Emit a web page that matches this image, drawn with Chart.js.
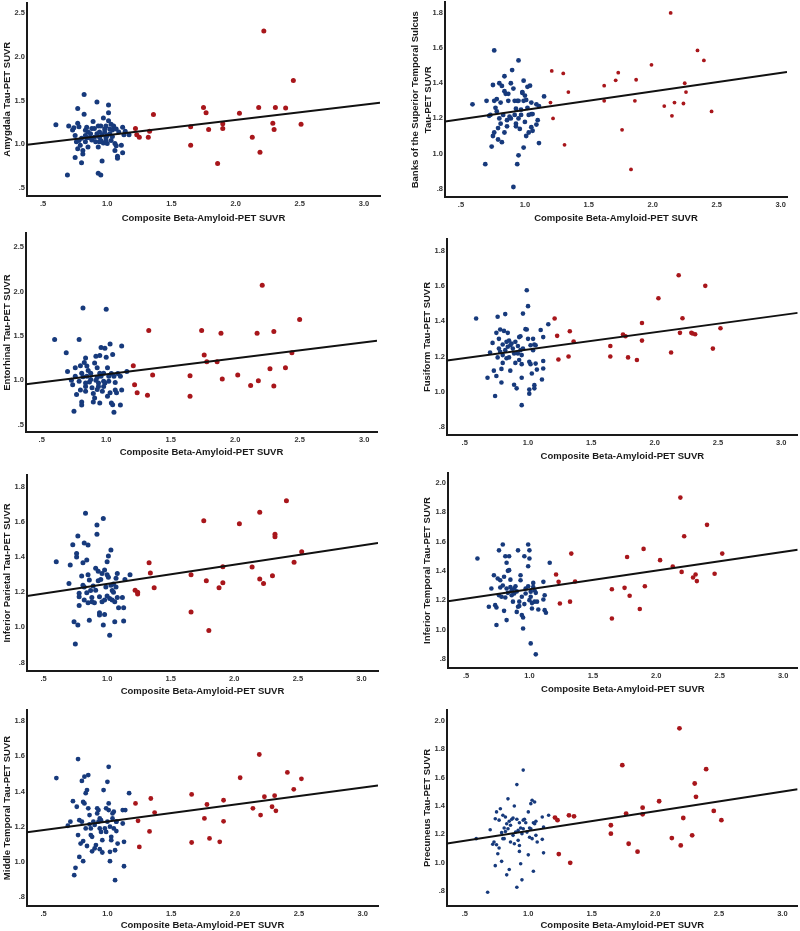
<!DOCTYPE html>
<html><head><meta charset="utf-8">
<script src="https://cdn.jsdelivr.net/npm/chart.js@4.4.1/dist/chart.umd.min.js"></script>
<style>
html,body{margin:0;padding:0;background:#fff;width:800px;height:931px;overflow:hidden;position:relative}
.p{position:absolute}
.p canvas{display:block}
</style></head><body>
<div class="p" id="w1"><canvas id="c1"></canvas></div>
<div class="p" id="w2"><canvas id="c2"></canvas></div>
<div class="p" id="w3"><canvas id="c3"></canvas></div>
<div class="p" id="w4"><canvas id="c4"></canvas></div>
<div class="p" id="w5"><canvas id="c5"></canvas></div>
<div class="p" id="w6"><canvas id="c6"></canvas></div>
<div class="p" id="w7"><canvas id="c7"></canvas></div>
<div class="p" id="w8"><canvas id="c8"></canvas></div>
<script>
// ---------- DATA ----------
const xTitle = 'Composite Beta-Amyloid-PET SUVR';
const xTickValues = [0.5, 1.0, 1.5, 2.0, 2.5, 3.0];
const yTicksWide = [0.5, 1.0, 1.5, 2.0, 2.5];
const yTicksMid = [0.8, 1.0, 1.2, 1.4, 1.6, 1.8];
const yTicksTall = [0.8, 1.0, 1.2, 1.4, 1.6, 1.8, 2.0];

// Amygdala
const amygdalaLow = [[0.60,1.225],[0.69,0.65],[0.70,1.21],[0.73,1.165],[0.74,1.19],[0.75,0.85],[0.75,1.10],[0.76,1.03],[0.77,1.41],[0.77,1.24],[0.77,0.95],[0.78,1.20],[0.79,0.99],[0.80,1.07],[0.80,0.79],[0.81,0.89],[0.81,0.93],[0.82,1.345],[0.82,1.57],[0.83,1.16],[0.83,1.10],[0.83,1.03],[0.84,1.195],[0.85,0.97],[0.85,1.14],[0.86,1.075],[0.87,1.12],[0.88,1.05],[0.89,1.26],[0.90,1.18],[0.91,1.03],[0.92,1.485],[0.92,1.12],[0.93,0.67],[0.93,1.21],[0.94,1.08],[0.94,1.03],[0.95,1.21],[0.95,0.65],[0.96,0.81],[0.96,1.11],[0.97,1.30],[0.97,1.015],[0.98,1.175],[0.99,1.075],[0.99,1.21],[1.00,1.10],[1.00,1.01],[1.01,1.45],[1.01,1.36],[1.01,1.27],[1.02,1.175],[1.02,1.12],[1.03,1.23],[1.03,1.045],[1.04,1.165],[1.04,1.09],[1.05,1.21],[1.06,0.93],[1.06,1.01],[1.07,1.175],[1.07,0.985],[1.08,0.865],[1.08,0.84],[1.09,1.14],[1.11,0.99],[1.12,1.195],[1.12,0.905],[1.13,1.11],[1.14,1.15],[1.17,1.11],[0.93,0.97],[0.90,1.08],[0.84,1.075],[0.78,1.045],[0.94,1.14],[0.98,1.14],[0.95,1.045],[0.99,1.045],[0.88,1.18]];
const amygdalaHigh = [[1.22,1.18],[1.23,1.11],[1.25,1.08],[1.32,1.08],[1.33,1.15],[1.36,1.34],[1.65,1.20],[1.65,0.99],[1.75,1.42],[1.77,1.36],[1.79,1.17],[1.86,0.78],[1.90,1.235],[1.90,1.18],[2.03,1.355],[2.13,1.08],[2.18,1.42],[2.19,0.91],[2.22,2.295],[2.29,1.24],[2.30,1.17],[2.31,1.42],[2.39,1.415],[2.45,1.73],[2.51,1.23]];
const amygdalaFitX = [0.375, 3.125];
const amygdalaFitY = [0.995, 1.475];

// Banks of the superior temporal sulcus
const bankssLow = [[0.59,1.28],[0.69,0.94],[0.70,1.30],[0.72,1.215],[0.73,1.22],[0.74,1.04],[0.75,1.39],[0.75,1.10],[0.76,1.30],[0.76,1.12],[0.76,1.587],[0.77,1.26],[0.78,1.31],[0.78,1.24],[0.79,1.145],[0.79,1.08],[0.80,1.20],[0.80,1.40],[0.81,1.29],[0.81,1.17],[0.82,1.065],[0.82,1.385],[0.83,1.22],[0.84,1.44],[0.84,1.355],[0.84,1.12],[0.85,1.34],[0.86,1.19],[0.86,1.155],[0.87,1.34],[0.87,1.30],[0.88,1.21],[0.89,1.40],[0.89,1.20],[0.90,1.475],[0.91,0.81],[0.92,1.30],[0.92,1.22],[0.93,1.17],[0.93,1.255],[0.93,1.155],[0.94,1.30],[0.94,0.94],[0.95,1.20],[0.95,0.99],[0.95,1.53],[0.95,1.30],[0.96,1.14],[0.97,1.25],[0.98,1.35],[0.98,1.345],[0.99,1.30],[0.99,1.415],[0.99,1.034],[1.00,1.18],[1.00,1.33],[1.01,1.305],[1.01,1.10],[1.02,1.38],[1.02,1.26],[1.03,1.12],[1.03,1.22],[1.04,1.386],[1.05,1.225],[1.05,1.15],[1.06,1.13],[1.06,1.225],[1.09,1.165],[1.09,1.28],[1.10,1.19],[1.11,1.06],[1.11,1.27],[1.15,1.325],[0.91,1.37],[0.97,1.22],[1.05,1.29]];
const bankssHigh = [[1.20,1.29],[1.21,1.47],[1.22,1.20],[1.30,1.456],[1.31,1.05],[1.34,1.35],[1.62,1.386],[1.62,1.30],[1.71,1.417],[1.73,1.46],[1.76,1.135],[1.83,0.91],[1.87,1.42],[1.86,1.30],[1.99,1.505],[2.09,1.27],[2.14,1.80],[2.15,1.215],[2.17,1.29],[2.24,1.285],[2.25,1.40],[2.26,1.35],[2.35,1.587],[2.40,1.53],[2.46,1.24]];
const bankssFitX = [0.375, 3.05];
const bankssFitY = [1.183, 1.464];

// Entorhinal
const entorhinalLow = [[0.60,1.46],[0.69,1.31],[0.70,1.10],[0.73,1.00],[0.74,0.95],[0.75,0.65],[0.76,1.045],[0.76,1.14],[0.77,0.84],[0.79,1.46],[0.79,0.99],[0.80,0.89],[0.80,1.165],[0.81,0.755],[0.81,0.72],[0.81,1.08],[0.82,1.815],[0.82,1.04],[0.83,1.20],[0.84,0.93],[0.84,1.25],[0.84,0.875],[0.85,1.16],[0.85,1.045],[0.86,1.11],[0.87,0.98],[0.88,1.08],[0.89,0.915],[0.90,0.85],[0.90,0.755],[0.91,0.80],[0.91,1.195],[0.92,1.00],[0.92,1.27],[0.93,1.14],[0.93,0.895],[0.94,0.97],[0.94,0.93],[0.95,1.28],[0.95,0.745],[0.96,1.37],[0.96,1.045],[0.97,0.875],[0.98,1.08],[0.98,0.93],[0.99,1.36],[0.99,0.97],[1.00,1.26],[1.00,1.80],[1.01,1.14],[1.01,0.82],[1.02,1.045],[1.02,0.99],[1.03,0.86],[1.03,1.41],[1.04,1.075],[1.04,0.745],[1.05,1.29],[1.05,0.725],[1.06,0.64],[1.06,1.045],[1.07,0.89],[1.07,0.975],[1.08,0.86],[1.09,1.075],[1.11,0.72],[1.11,1.045],[1.12,0.89],[1.12,1.385],[1.16,1.10],[0.88,1.01],[0.95,1.08],[0.93,1.03],[0.98,0.99],[0.84,0.97]];
const entorhinalHigh = [[1.21,1.165],[1.22,0.95],[1.24,0.86],[1.32,0.83],[1.33,1.56],[1.36,1.06],[1.65,1.05],[1.65,0.82],[1.74,1.56],[1.76,1.285],[1.78,1.21],[1.86,1.21],[1.89,1.53],[1.90,1.015],[2.02,1.06],[2.12,0.94],[2.17,1.53],[2.18,0.995],[2.21,2.07],[2.27,1.13],[2.30,0.935],[2.30,1.55],[2.39,1.14],[2.44,1.31],[2.50,1.685]];
const entorhinalFitX = [0.378, 3.10];
const entorhinalFitY = [0.955, 1.447];

// Fusiform
const fusiformLow = [[0.59,1.415],[0.68,1.08],[0.70,1.223],[0.72,1.277],[0.73,1.12],[0.74,0.977],[0.75,1.09],[0.75,1.334],[0.76,1.425],[0.76,1.195],[0.77,1.245],[0.77,1.30],[0.78,1.227],[0.78,1.353],[0.79,1.13],[0.79,1.053],[0.80,1.164],[0.80,1.268],[0.81,1.345],[0.82,1.44],[0.82,1.236],[0.83,1.19],[0.83,1.283],[0.84,1.334],[0.84,1.255],[0.85,1.29],[0.85,1.195],[0.86,1.12],[0.86,1.264],[0.87,1.274],[0.88,1.245],[0.89,1.04],[0.90,1.164],[0.90,1.283],[0.91,1.02],[0.92,1.217],[0.92,1.26],[0.93,1.31],[0.93,1.18],[0.94,1.315],[0.94,1.236],[0.95,1.157],[0.95,1.08],[0.95,0.925],[0.96,1.443],[0.96,1.245],[0.98,1.355],[0.99,1.575],[0.99,1.353],[1.00,1.30],[1.00,1.485],[1.01,1.013],[1.01,0.99],[1.01,1.17],[1.02,1.157],[1.02,1.264],[1.03,1.104],[1.04,1.30],[1.04,1.236],[1.05,1.268],[1.05,1.038],[1.05,1.02],[1.06,1.16],[1.07,1.126],[1.10,1.35],[1.11,1.07],[1.12,1.175],[1.12,1.31],[1.12,1.132],[1.16,1.383],[1.06,1.264],[0.95,1.208],[0.89,1.217],[0.80,1.208]];
const fusiformHigh = [[1.21,1.415],[1.23,1.317],[1.24,1.183],[1.32,1.20],[1.33,1.343],[1.36,1.285],[1.65,1.26],[1.65,1.20],[1.75,1.325],[1.77,1.315],[1.79,1.195],[1.86,1.18],[1.90,1.39],[1.90,1.29],[2.03,1.53],[2.13,1.223],[2.19,1.66],[2.20,1.334],[2.22,1.417],[2.29,1.334],[2.30,1.33],[2.32,1.326],[2.40,1.60],[2.46,1.245],[2.52,1.36]];
const fusiformFitX = [0.36, 3.13];
const fusiformFitY = [1.177, 1.447];

// Inferior parietal
const infParietalLow = [[0.60,1.374],[0.70,1.25],[0.71,1.355],[0.73,1.47],[0.74,1.032],[0.75,0.905],[0.76,1.42],[0.76,1.40],[0.77,1.013],[0.77,1.52],[0.78,1.194],[0.78,1.125],[0.78,1.175],[0.80,1.292],[0.81,1.368],[0.81,1.24],[0.82,1.156],[0.82,1.23],[0.82,1.48],[0.83,1.65],[0.84,1.383],[0.84,1.197],[0.85,1.14],[0.85,1.469],[0.85,1.30],[0.86,1.27],[0.86,1.04],[0.87,1.21],[0.88,1.17],[0.88,1.146],[0.89,1.235],[0.90,1.14],[0.91,1.336],[0.91,1.212],[0.92,1.583],[0.92,1.53],[0.93,1.266],[0.93,1.32],[0.94,1.175],[0.94,1.083],[0.94,1.07],[0.95,1.273],[0.96,1.146],[0.96,1.307],[0.97,1.013],[0.97,1.62],[0.98,1.074],[0.98,1.156],[0.99,1.23],[1.00,1.30],[1.00,1.374],[1.01,1.406],[1.01,1.285],[1.02,1.165],[1.02,0.956],[1.03,1.44],[1.03,1.24],[1.04,1.21],[1.04,1.156],[1.05,1.247],[1.05,1.20],[1.06,1.146],[1.06,1.032],[1.07,1.28],[1.07,1.23],[1.08,1.307],[1.08,1.17],[1.09,1.112],[1.12,1.17],[1.13,1.112],[1.13,1.036],[1.14,1.273],[1.18,1.30],[0.98,1.326],[1.00,1.178]];
const infParietalHigh = [[1.22,1.212],[1.24,1.19],[1.24,1.20],[1.33,1.368],[1.34,1.31],[1.37,1.226],[1.66,1.30],[1.66,1.087],[1.76,1.607],[1.78,1.266],[1.80,0.983],[1.88,1.226],[1.91,1.345],[1.91,1.254],[2.04,1.59],[2.14,1.343],[2.20,1.655],[2.20,1.275],[2.23,1.25],[2.30,1.294],[2.32,1.516],[2.32,1.53],[2.41,1.72],[2.47,1.37],[2.53,1.43]];
const infParietalFitX = [0.37, 3.13];
const infParietalFitY = [1.179, 1.48];

// Inferior temporal
const infTemporalLow = [[0.59,1.484],[0.68,1.155],[0.70,1.28],[0.72,1.37],[0.73,1.166],[0.74,1.03],[0.74,1.15],[0.75,1.348],[0.76,1.54],[0.76,1.234],[0.77,1.286],[0.77,1.336],[0.78,1.223],[0.79,1.58],[0.79,1.30],[0.80,1.127],[0.80,1.36],[0.81,1.218],[0.81,1.50],[0.82,1.28],[0.82,1.064],[0.82,1.455],[0.83,1.40],[0.83,1.25],[0.84,1.50],[0.84,1.405],[0.85,1.34],[0.85,1.29],[0.86,1.234],[0.86,1.268],[0.87,1.19],[0.88,1.28],[0.89,1.295],[0.90,1.12],[0.90,1.26],[0.91,1.54],[0.91,1.155],[0.92,1.19],[0.92,1.16],[0.93,1.37],[0.93,1.336],[0.94,1.223],[0.94,1.098],[0.95,1.007],[0.95,1.082],[0.96,1.50],[0.96,1.173],[0.97,1.28],[0.97,1.245],[0.99,1.432],[0.99,1.58],[0.99,1.295],[1.00,1.20],[1.00,1.54],[1.00,1.484],[1.01,0.905],[1.01,1.257],[1.02,1.18],[1.02,1.143],[1.03,1.29],[1.03,1.318],[1.04,1.268],[1.04,1.19],[1.05,0.83],[1.05,1.25],[1.06,1.19],[1.07,1.136],[1.11,1.325],[1.11,1.205],[1.12,1.234],[1.12,1.132],[1.13,1.114],[1.16,1.455],[0.88,1.245],[1.01,1.223]];
const infTemporalHigh = [[1.21,1.375],[1.23,1.325],[1.24,1.177],[1.32,1.19],[1.33,1.518],[1.36,1.327],[1.65,1.275],[1.65,1.075],[1.75,1.284],[1.77,1.495],[1.79,1.23],[1.87,1.14],[1.90,1.55],[1.91,1.295],[2.03,1.473],[2.13,1.43],[2.19,1.90],[2.20,1.393],[2.22,1.636],[2.29,1.355],[2.31,1.375],[2.32,1.33],[2.40,1.714],[2.46,1.38],[2.52,1.518]];
const infTemporalFitX = [0.358, 3.115];
const infTemporalFitY = [1.193, 1.544];

// Middle temporal
const midTemporalLow = [[0.60,1.476],[0.69,1.205],[0.71,1.228],[0.73,1.345],[0.74,0.924],[0.75,0.966],[0.76,1.313],[0.77,1.152],[0.77,1.584],[0.78,1.028],[0.78,1.237],[0.79,1.104],[0.80,1.46],[0.80,1.228],[0.81,1.118],[0.81,1.34],[0.81,1.004],[0.82,1.332],[0.82,1.484],[0.83,1.19],[0.83,1.39],[0.84,1.09],[0.84,1.408],[0.85,1.493],[0.85,1.304],[0.86,1.266],[0.86,1.213],[0.87,1.19],[0.87,1.152],[0.88,1.06],[0.88,1.142],[0.89,1.228],[0.90,1.21],[0.90,1.076],[0.91,1.095],[0.92,1.304],[0.92,1.275],[0.93,1.228],[0.93,1.294],[0.94,1.072],[0.94,1.19],[0.95,1.17],[0.95,1.237],[0.96,1.053],[0.96,1.123],[0.97,1.408],[0.98,1.19],[0.99,1.304],[1.00,1.455],[1.00,1.228],[1.01,1.294],[1.01,1.54],[1.01,1.332],[1.02,1.057],[1.02,1.004],[1.02,1.20],[1.03,1.142],[1.03,1.123],[1.04,1.275],[1.04,1.247],[1.05,1.19],[1.05,1.285],[1.06,1.066],[1.06,0.896],[1.07,1.228],[1.07,1.175],[1.07,1.228],[1.08,1.104],[1.12,1.294],[1.12,1.218],[1.13,1.114],[1.13,0.975],[1.14,1.294],[1.17,1.39],[0.94,1.247],[0.99,1.17]];
const midTemporalHigh = [[1.22,1.332],[1.24,1.233],[1.25,1.085],[1.33,1.173],[1.34,1.36],[1.37,1.28],[1.66,1.383],[1.66,1.11],[1.76,1.247],[1.78,1.326],[1.80,1.133],[1.88,1.114],[1.91,1.35],[1.91,1.23],[2.04,1.478],[2.14,1.304],[2.19,1.61],[2.20,1.266],[2.23,1.37],[2.29,1.313],[2.31,1.376],[2.32,1.29],[2.41,1.508],[2.46,1.412],[2.52,1.472]];
const midTemporalFitX = [0.37, 3.12];
const midTemporalFitY = [1.168, 1.434];

// Precuneus
const precuneusLow = [[0.59,1.17],[0.68,0.793],[0.70,1.233],[0.72,1.13],[0.73,1.146],[0.74,0.98],[0.74,1.31],[0.75,1.127],[0.75,1.358],[0.76,1.064],[0.77,1.30],[0.77,1.104],[0.78,1.38],[0.79,1.212],[0.79,1.01],[0.80,1.17],[0.80,1.334],[0.81,1.245],[0.81,1.17],[0.82,1.322],[0.82,1.22],[0.83,0.915],[0.83,1.275],[0.84,1.45],[0.84,1.24],[0.85,0.953],[0.85,1.292],[0.86,1.264],[0.86,1.146],[0.87,1.306],[0.88,1.315],[0.89,1.40],[0.89,1.134],[0.90,1.216],[0.91,1.55],[0.91,0.828],[0.91,1.306],[0.92,1.228],[0.93,1.282],[0.93,1.08],[0.93,1.122],[0.94,1.245],[0.94,0.993],[0.95,1.205],[0.95,0.88],[0.96,1.652],[0.96,1.30],[0.96,1.24],[0.97,1.306],[0.98,1.282],[0.99,1.216],[1.00,1.358],[1.00,1.056],[1.01,1.245],[1.01,1.18],[1.02,1.416],[1.02,1.24],[1.03,1.17],[1.03,1.44],[1.04,1.282],[1.04,0.94],[1.05,1.428],[1.05,1.275],[1.06,1.292],[1.06,1.193],[1.07,1.146],[1.11,1.322],[1.12,1.07],[1.12,1.252],[1.11,1.165],[1.16,1.334],[0.92,1.158],[0.88,1.193]];
const precuneusHigh = [[1.21,1.318],[1.23,1.30],[1.24,1.061],[1.32,1.334],[1.33,1.00],[1.36,1.327],[1.65,1.264],[1.65,1.205],[1.74,1.687],[1.77,1.346],[1.79,1.134],[1.86,1.078],[1.90,1.388],[1.90,1.341],[2.03,1.433],[2.13,1.174],[2.19,1.946],[2.20,1.122],[2.22,1.315],[2.29,1.193],[2.31,1.558],[2.32,1.464],[2.40,1.659],[2.46,1.365],[2.52,1.30]];
const precuneusFitX = [0.36, 3.12];
const precuneusFitY = [1.136, 1.518];

// ---------- STYLE / LAYOUT ----------
const BLUE = '#173a7c';
const RED = '#a8161b';
const FONT = "'Liberation Sans', Arial, sans-serif";

const panels = [
  {id:1, yTitle:'Amygdala Tau-PET SUVR', low:amygdalaLow, high:amygdalaHigh, fx:amygdalaFitX, fy:amygdalaFitY, yTicks:yTicksWide,
   L:0, T:0, H:230, yW:27, padTop:0, padRight:20, xMin:0.375, xMax:3.125, yMin:0.41, yMax:2.62, gap:22, ytp:1.3, rLow:2.5, rHigh:2.5},
  {id:2, yTitle:['Banks of the Superior Temporal Sulcus','Tau-PET SUVR'], low:bankssLow, high:bankssHigh, fx:bankssFitX, fy:bankssFitY, yTicks:yTicksMid,
   L:400, T:0, H:231, yW:45, padTop:0, padRight:13, xMin:0.375, xMax:3.05, yMin:0.753, yMax:1.86, gap:21, ytp:9.5, rLow:2.4, rHigh:1.9},
  {id:3, yTitle:'Entorhinal Tau-PET SUVR', low:entorhinalLow, high:entorhinalHigh, fx:entorhinalFitX, fy:entorhinalFitY, yTicks:yTicksWide,
   L:0, T:228, H:238, yW:26, padTop:5, padRight:23, xMin:0.378, xMax:3.10, yMin:0.417, yMax:2.66, gap:20.5, ytp:1.0, rLow:2.5, rHigh:2.5},
  {id:4, yTitle:'Fusiform Tau-PET SUVR', low:fusiformLow, high:fusiformHigh, fx:fusiformFitX, fy:fusiformFitY, yTicks:yTicksMid,
   L:400, T:234, H:235, yW:47, padTop:5, padRight:1, xMin:0.36, xMax:3.13, yMin:0.756, yMax:1.865, gap:21, ytp:21, rLow:2.3, rHigh:2.3},
  {id:5, yTitle:'Inferior Parietal Tau-PET SUVR', low:infParietalLow, high:infParietalHigh, fx:infParietalFitX, fy:infParietalFitY, yTicks:yTicksMid,
   L:0, T:470, H:235, yW:27, padTop:5, padRight:22, xMin:0.37, xMax:3.13, yMin:0.752, yMax:1.867, gap:20, ytp:1.0, rLow:2.5, rHigh:2.5},
  {id:6, yTitle:'Inferior Temporal Tau-PET SUVR', low:infTemporalLow, high:infTemporalHigh, fx:infTemporalFitX, fy:infTemporalFitY, yTicks:yTicksTall,
   L:400, T:468, H:234, yW:48, padTop:5, padRight:2, xMin:0.358, xMax:3.115, yMin:0.737, yMax:2.068, gap:21, ytp:21.5, rLow:2.3, rHigh:2.3},
  {id:7, yTitle:'Middle Temporal Tau-PET SUVR', low:midTemporalLow, high:midTemporalHigh, fx:midTemporalFitX, fy:midTemporalFitY, yTicks:yTicksMid,
   L:0, T:705, H:235, yW:27, padTop:5, padRight:22, xMin:0.37, xMax:3.12, yMin:0.749, yMax:1.863, gap:19.5, ytp:1.0, rLow:2.4, rHigh:2.4},
  {id:8, yTitle:'Precuneus Tau-PET SUVR', low:precuneusLow, high:precuneusHigh, fx:precuneusFitX, fy:precuneusFitY, yTicks:yTicksTall,
   L:400, T:705, H:235, yW:47, padTop:5, padRight:2, xMin:0.36, xMax:3.12, yMin:0.696, yMax:2.075, gap:19.5, ytp:21, rLow:1.8, rHigh:2.4}
];

const XH = 34;            // height of x-axis box
const TITLE_SIZE = 9.5;
const TITLE_LH = 1.3;
const fmt = v => { const s = Number(v).toFixed(1); return s.charAt(0) === '0' ? s.slice(1) : s; };

panels.forEach(p => {
  const wrap = document.getElementById('w' + p.id);
  wrap.style.left = p.L + 'px';
  wrap.style.top = p.T + 'px';
  const cv = document.getElementById('c' + p.id);
  cv.width = 400; cv.height = p.H;
  cv.style.width = '400px'; cv.style.height = p.H + 'px';
  const halfLH = TITLE_SIZE * TITLE_LH / 2;
  new Chart(cv.getContext('2d'), {
    type: 'scatter',
    data: {
      datasets: [
        {type:'line', data: p.fx.map((x,i) => ({x, y:p.fy[i]})), borderColor:'#111', borderWidth:2,
         pointRadius:0, fill:false, tension:0},
        {data: p.low.map(([x,y]) => ({x, y})), backgroundColor: BLUE, borderWidth:0,
         pointRadius:p.rLow, pointHoverRadius:p.rLow},
        {data: p.high.map(([x,y]) => ({x, y})), backgroundColor: RED, borderWidth:0,
         pointRadius:p.rHigh, pointHoverRadius:p.rHigh}
      ]
    },
    options: {
      responsive:false, animation:false, events:[],
      plugins:{legend:{display:false}, tooltip:{enabled:false}},
      layout:{padding:{top:p.padTop, right:p.padRight, left:0, bottom:0}},
      scales:{
        x:{type:'linear', min:p.xMin, max:p.xMax,
           grid:{display:false, drawTicks:false},
           border:{display:true, color:'#1a1a1a', width:2},
           ticks:{padding:3, color:'#333', font:{family:FONT, size:7.5, weight:'bold'}, callback:fmt},
           afterBuildTicks: s => { s.ticks = xTickValues.map(v => ({value:v})); },
           afterFit: s => { s.height = XH; s.paddingLeft = 0; s.paddingRight = 0; },
           title:{display:true, text:xTitle, color:'#1a1a1a',
                  font:{family:FONT, size:TITLE_SIZE, weight:'bold', lineHeight:TITLE_LH},
                  padding:{top:0, bottom: XH - p.gap - halfLH}}
        },
        y:{type:'linear', min:p.yMin, max:p.yMax,
           grid:{display:false, drawTicks:false},
           border:{display:true, color:'#1a1a1a', width:2},
           ticks:{padding:2, color:'#333', font:{family:FONT, size:7.5, weight:'bold'}, callback:fmt},
           afterBuildTicks: s => { s.ticks = p.yTicks.map(v => ({value:v})); },
           afterFit: s => { s.width = p.yW; s.paddingTop = 0; s.paddingBottom = 0; },
           title:{display:true, text:p.yTitle, color:'#1a1a1a',
                  font:{family:FONT, size:TITLE_SIZE, weight:'bold', lineHeight:TITLE_LH},
                  padding:{top:p.ytp, bottom:0}}
        }
      }
    }
  });
});
</script>
</body></html>
